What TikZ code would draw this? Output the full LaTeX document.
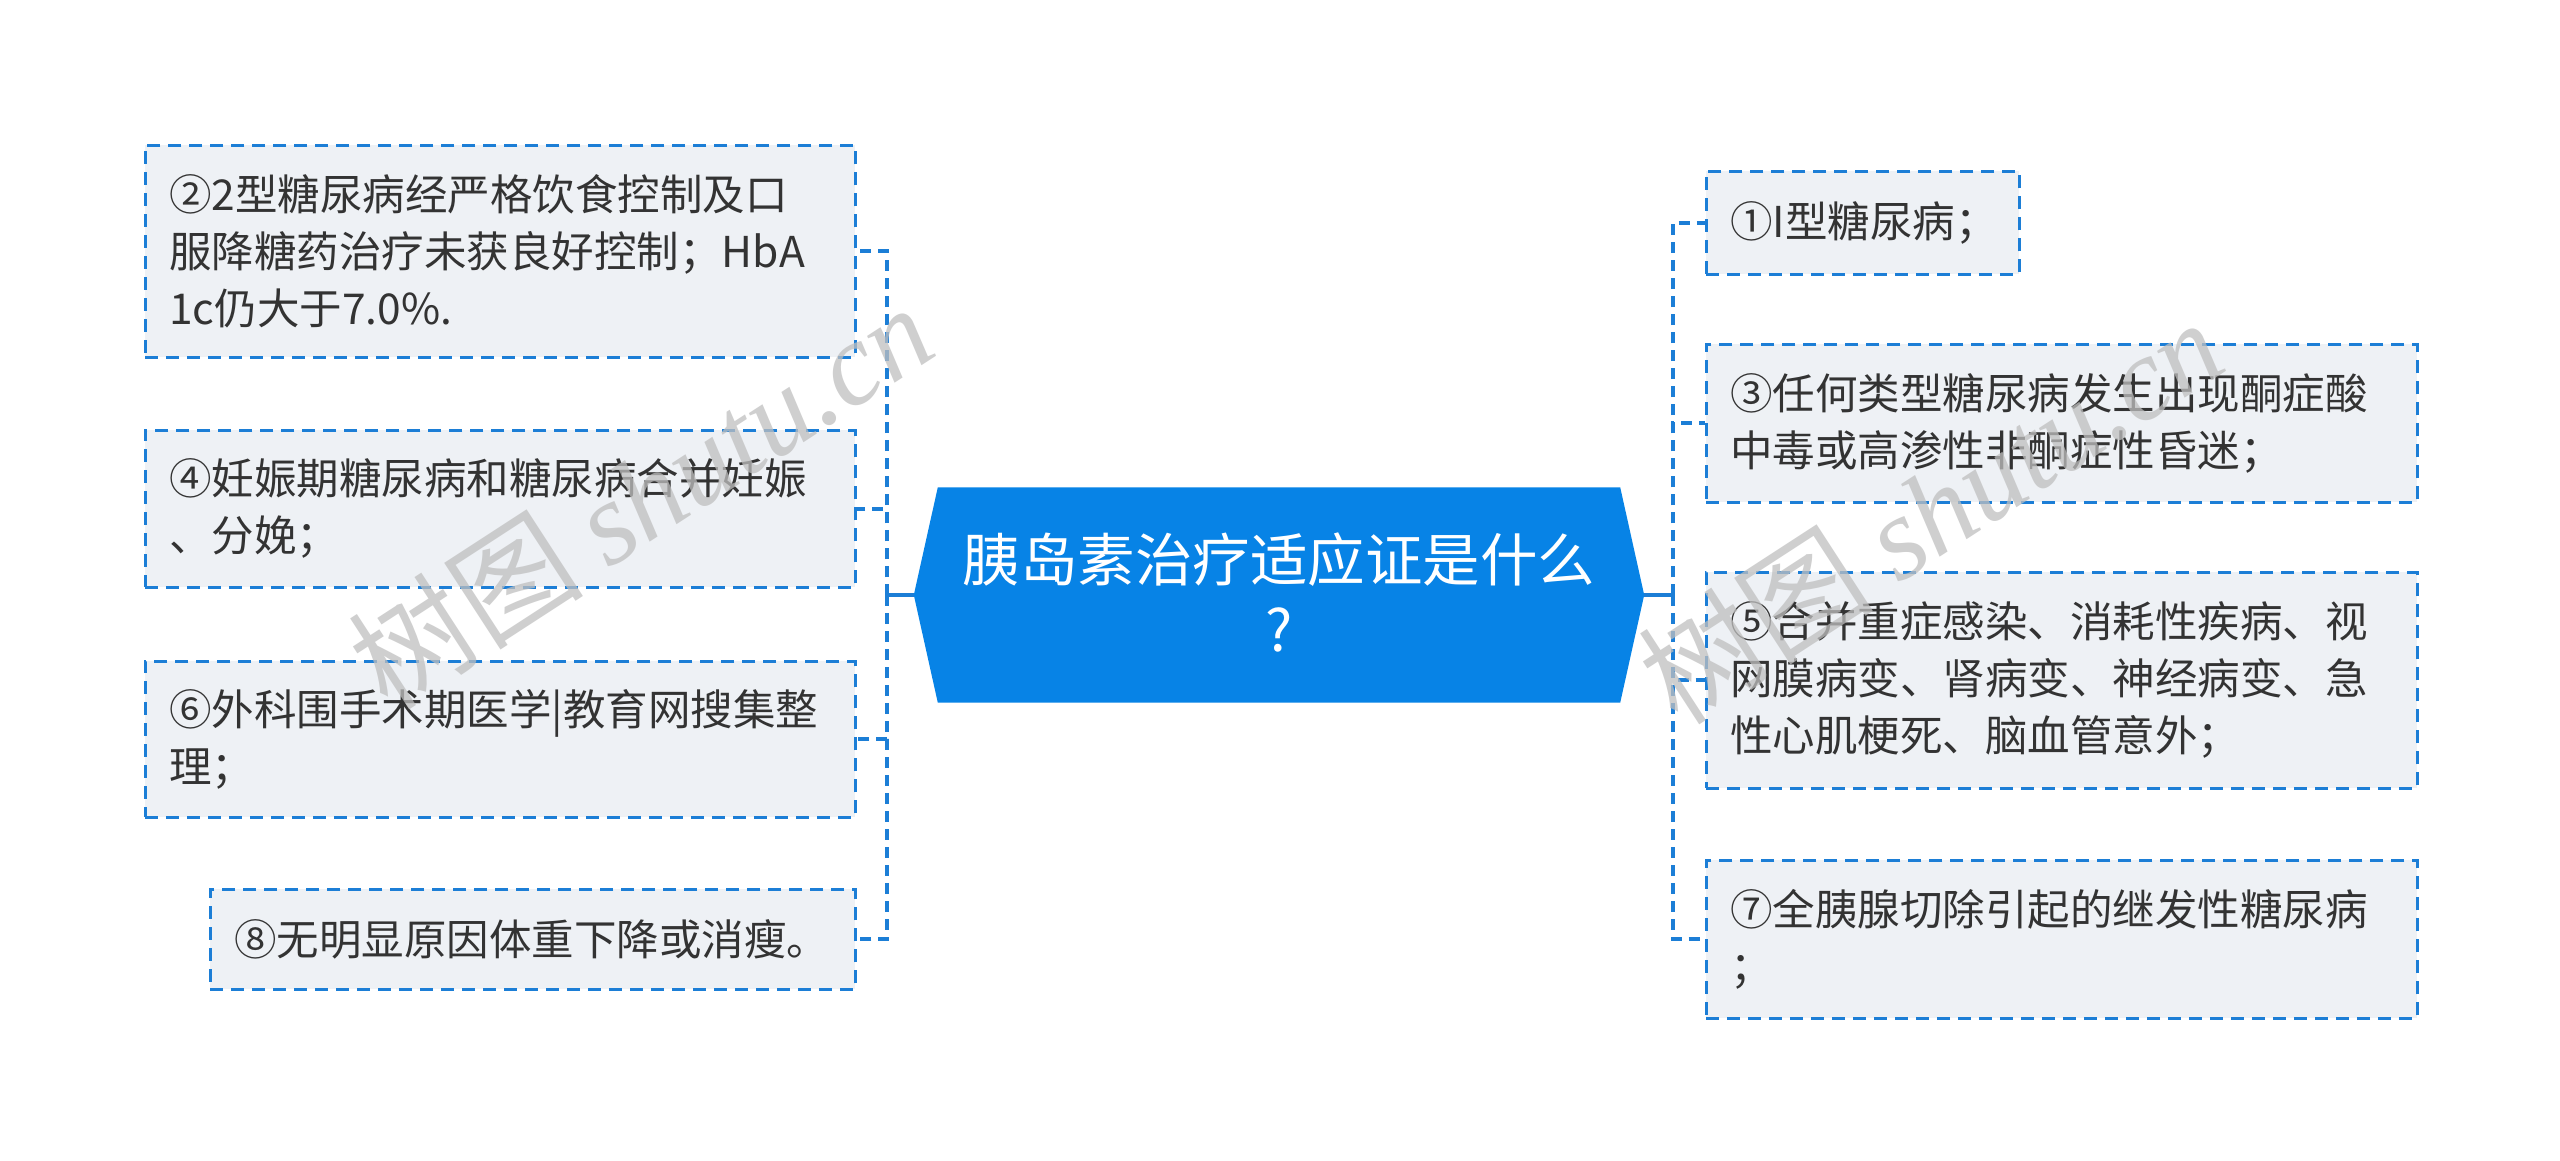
\documentclass[tikz,border=0pt]{standalone}
\usepackage{fontspec}
\setmainfont{Noto Sans CJK SC}
\newfontfamily\cjk{Noto Sans CJK SC}
\newfontfamily\wmfont{Liberation Serif}
\usetikzlibrary{backgrounds}
\definecolor{hubblue}{HTML}{0783E6}
\definecolor{dashblue}{HTML}{1C7ED6}
\definecolor{boxfill}{HTML}{EEF1F5}
\definecolor{txt}{HTML}{333333}
\tikzset{
  itembox/.style={draw=dashblue, line width=2.6pt, dash pattern=on 13pt off 8pt,
    fill=boxfill, text=txt, inner xsep=24pt, inner ysep=0pt, align=left,
    anchor=north west, font=\fontsize{42.5}{57}\selectfont},
  conn/.style={draw=dashblue, line width=4pt, dash pattern=on 11pt off 7pt},
  stub/.style={draw=dashblue, line width=4pt},
  wm/.style={text=black!25, opacity=0.75, font=\fontsize{118}{120}\selectfont}
}
\begin{document}
\begin{tikzpicture}[x=1pt,y=-1pt]
\useasboundingbox (0,0) rectangle (2560,1161);

% center
\node[text=white, align=center, minimum width=730pt, minimum height=215pt, inner sep=0pt,
  font=\fontsize{57.5}{70}\selectfont] (c) at (1279,592) {胰岛素治疗适应证是什么\\?};
\begin{scope}[on background layer]
\fill[white] (0,0) rectangle (2560,1161);
\fill[hubblue] ([xshift=24pt,yshift=-3pt]c.north west) -- ([xshift=-24pt,yshift=-3pt]c.north east)
  -- ([yshift=-3pt]c.east)
  -- ([xshift=-24pt,yshift=-3pt]c.south east) -- ([xshift=24pt,yshift=-3pt]c.south west)
  -- ([yshift=-3pt]c.west) -- cycle;
\end{scope}

% left boxes
\node[itembox, text width=662pt, minimum height=212pt] (b2) at (144,144)
  {②2型糖尿病经严格饮食控制及口\\服降糖药治疗未获良好控制；HbA\\1c仍大于7.0\%.};
\node[itembox, text width=662pt, minimum height=157pt] (b4) at (144,429)
  {④妊娠期糖尿病和糖尿病合并妊娠\\、分娩；};
\node[itembox, text width=662pt, minimum height=156pt] (b6) at (144,660)
  {⑥外科围手术期医学|教育网搜集整\\理；};
\node[itembox, text width=597pt, minimum height=100pt] (b8) at (209,888)
  {⑧无明显原因体重下降或消瘦。};

% right boxes
\node[itembox, text width=265pt, minimum height=103pt] (b1) at (1705,170)
  {①I型糖尿病；};
\node[itembox, text width=663pt, minimum height=158pt] (b3) at (1705,343)
  {③任何类型糖尿病发生出现酮症酸\\中毒或高渗性非酮症性昏迷；};
\node[itembox, text width=663pt, minimum height=216pt] (b5) at (1705,571)
  {⑤合并重症感染、消耗性疾病、视\\网膜病变、肾病变、神经病变、急\\性心肌梗死、脑血管意外；};
\node[itembox, text width=663pt, minimum height=158pt] (b7) at (1705,859)
  {⑦全胰腺切除引起的继发性糖尿病\\；};

% connectors
\coordinate (hl) at (887,595);
\coordinate (hr) at (1673,595);
\draw[stub] (c.west |- hl) -- (hl);
\draw[stub] (c.east |- hr) -- (hr);
\foreach \b in {b2,b4,b6,b8} \draw[conn] (hl) |- (\b.east);
\foreach \b in {b1,b3,b5,b7} \draw[conn] (hr) |- (\b.west);

% watermarks
\node[wm, rotate=33] (wm1) at (640,495) {{\cjk 树图} {\wmfont\itshape shutu.cn}};
\node[wm, rotate=33] (wm2) at (1930,510) {{\cjk 树图} {\wmfont\itshape shutu.cn}};
\end{tikzpicture}
\end{document}
